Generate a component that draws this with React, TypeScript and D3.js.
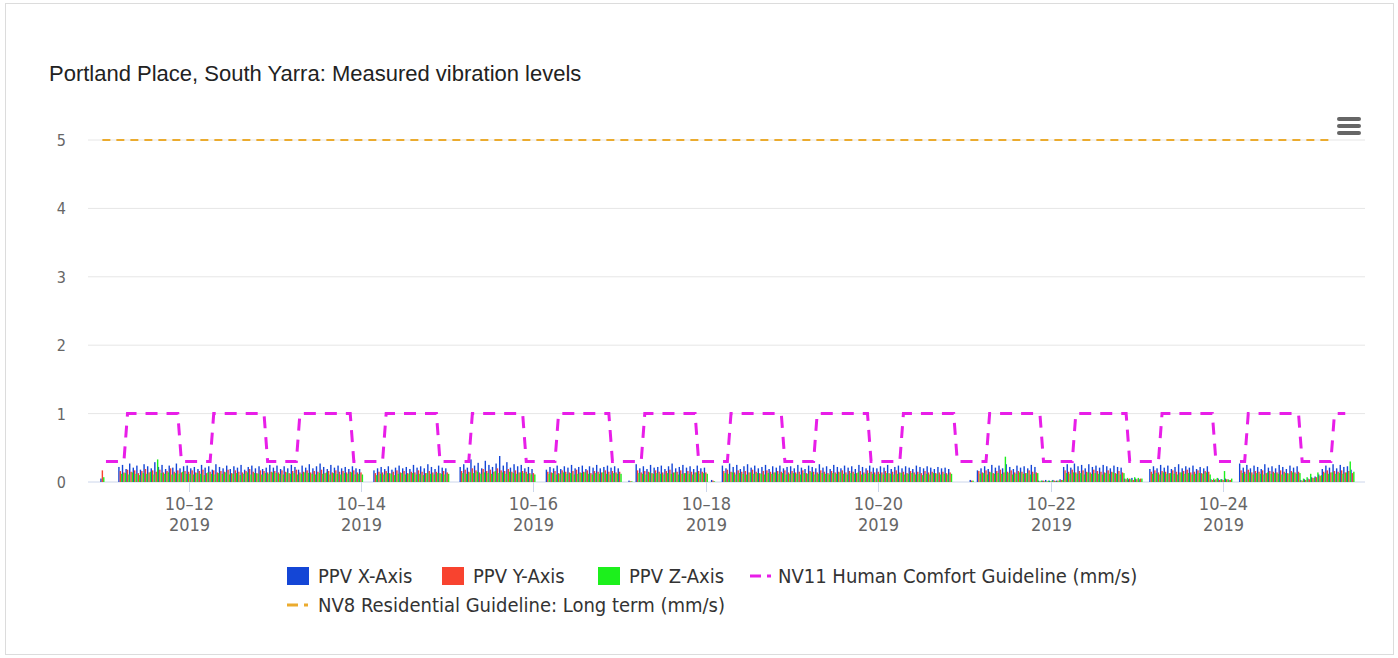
import React from "react";
import * as d3 from "d3";

const n = null;

// hourly PPV readings (mm/s), first value at 2019-10-11 00:00, one row per day
const firstHour = "2019-10-11 00:00";

const ppvX: (number | null)[] = [
  .05,n,n,n,n,.22,.25,.19,.27,.21,.24,.18,.26,.23,.2,.29,.22,.25,.19,.24,.21,.27,.2,.23,
  .24,.2,.22,.19,.25,.21,.23,.18,.26,.22,.2,.24,.19,.23,.21,.25,.18,.22,.24,.2,.23,.19,.21,.25,
  .21,.24,.19,.23,.2,.25,.22,.18,.24,.21,.26,.2,.23,.27,.22,.19,.25,.21,.24,.2,.22,.19,.23,.2,
  .19,n,n,n,.17,.2,.22,.19,.23,.18,.21,.24,.2,.22,.19,.25,.21,.23,.2,.26,.22,.19,.24,.21,
  .2,n,n,n,.22,.26,.21,.33,.24,.28,.2,.31,.25,.22,.27,.38,.24,.29,.21,.26,.23,.25,.2,.22,
  .19,n,n,n,.18,.22,.2,.24,.19,.23,.21,.25,.2,.22,.24,.19,.23,.21,.25,.2,.22,.24,.21,.23,
  .2,n,n,.02,n,.26,.2,.23,.19,.25,.21,.22,.24,.19,.23,.27,.2,.22,.25,.21,.23,.19,.24,.2,
  .21,n,.03,n,n,.24,.2,.27,.22,.25,.19,.23,.26,.21,.24,.2,.22,.25,.19,.23,.21,.24,.2,.22,
  .23,.2,.25,.21,.19,.24,.22,.2,.26,.21,.23,.19,.25,.22,.2,.24,.21,.23,.19,.25,.22,.2,.24,.21,
  .2,.23,.21,.25,.19,.22,.24,.2,.23,.21,.19,.24,.22,.2,.23,.21,.19,.22,.2,.21,.19,n,n,n,
  n,n,.03,n,.17,.2,.23,.19,.25,.21,.24,.2,.26,.22,.19,.24,.21,.23,.2,.25,.22,.02,.02,.03,
  .02,.03,.02,.04,.22,.26,.21,.27,.23,.25,.2,.26,.22,.24,.21,.25,.23,.2,.24,.22,.21,.05,.04,.06,
  .05,.04,n,n,.19,.23,.2,.25,.21,.24,.19,.22,.26,.2,.23,.21,.24,.19,.22,.2,.23,.04,.03,.05,
  .04,.05,.03,n,n,.27,.21,.25,.2,.24,.22,.19,.26,.21,.23,.2,.25,.22,.19,.24,.21,.23,.03,.04,
  .05,.07,.08,.11,.19,.24,.21,.26,.2,.25,.22,.23,.18,
];

const ppvY: (number | null)[] = [
  .17,n,n,n,n,.16,.14,.18,.15,.17,.13,.16,.19,.14,.17,.15,.18,.14,.16,.2,.15,.17,.14,.16,
  .15,.17,.14,.16,.18,.13,.15,.17,.14,.16,.15,.18,.13,.17,.15,.14,.16,.19,.15,.13,.17,.16,.14,.15,
  .16,.14,.17,.15,.13,.16,.18,.14,.15,.17,.14,.16,.15,.18,.13,.16,.14,.17,.15,.16,.14,.15,.17,.14,
  .14,n,n,n,.13,.15,.14,.16,.13,.15,.17,.14,.16,.13,.15,.14,.17,.15,.13,.16,.14,.15,.13,.16,
  .14,n,n,n,.16,.18,.15,.2,.17,.14,.19,.16,.18,.15,.2,.17,.16,.19,.15,.17,.14,.16,.15,.13,
  .13,n,n,n,.15,.14,.16,.13,.17,.15,.14,.16,.18,.14,.15,.17,.13,.16,.15,.14,.17,.15,.16,.14,
  .15,n,n,.01,n,.17,.14,.16,.15,.13,.17,.15,.14,.16,.18,.14,.15,.17,.13,.16,.15,.14,.16,.15,
  .14,n,.02,n,n,.16,.18,.15,.14,.17,.15,.16,.14,.18,.15,.13,.16,.17,.15,.14,.16,.15,.17,.14,
  .16,.14,.15,.17,.13,.16,.15,.14,.17,.15,.13,.16,.14,.15,.17,.14,.16,.15,.13,.16,.14,.17,.15,.14,
  .15,.14,.16,.13,.15,.17,.14,.15,.13,.16,.14,.15,.13,.16,.14,.15,.13,.14,.15,.13,.14,n,n,n,
  n,n,.02,n,.16,.14,.17,.15,.13,.16,.18,.14,.15,.17,.14,.16,.15,.13,.17,.15,.14,.01,.02,.01,
  .01,.02,.02,.03,.17,.15,.18,.14,.16,.17,.15,.14,.18,.16,.15,.14,.17,.15,.13,.16,.14,.04,.05,.03,
  .04,.05,n,n,.15,.17,.14,.16,.15,.13,.17,.15,.14,.16,.18,.14,.15,.17,.13,.16,.15,.03,.04,.03,
  .03,.04,.03,n,n,.17,.15,.18,.14,.16,.15,.17,.13,.16,.15,.14,.17,.15,.13,.16,.14,.15,.02,.03,
  .04,.06,.07,.09,.15,.17,.14,.16,.15,.17,.14,.16,.13,
];

const ppvZ: (number | null)[] = [
  .07,n,n,n,n,.12,.13,.11,.14,.12,.1,.13,.12,.15,.11,.33,.13,.12,.14,.11,.13,.12,.15,.12,
  .12,.11,.13,.12,.1,.14,.12,.11,.13,.12,.14,.11,.12,.13,.1,.12,.14,.11,.13,.12,.11,.13,.12,.14,
  .13,.12,.11,.14,.12,.13,.11,.12,.14,.13,.12,.11,.13,.12,.14,.11,.13,.12,.11,.13,.12,.14,.11,.12,
  .11,n,n,n,.1,.12,.11,.13,.12,.1,.12,.13,.11,.12,.13,.11,.12,.1,.13,.12,.11,.13,.12,.11,
  .12,n,n,n,.13,.12,.14,.13,.15,.12,.14,.13,.12,.16,.13,.14,.12,.15,.13,.12,.14,.13,.12,.11,
  .11,n,n,n,.12,.13,.11,.12,.14,.12,.13,.11,.12,.13,.14,.12,.11,.13,.12,.14,.12,.11,.13,.12,
  .12,n,n,.01,n,.13,.12,.11,.14,.12,.13,.12,.11,.13,.12,.14,.11,.12,.13,.12,.11,.14,.12,.13,
  .12,n,.01,n,n,.13,.12,.14,.11,.13,.12,.11,.14,.12,.13,.12,.11,.13,.12,.14,.12,.13,.11,.12,
  .13,.12,.11,.13,.12,.14,.11,.12,.13,.12,.11,.13,.12,.14,.12,.11,.13,.12,.14,.11,.12,.13,.12,.11,
  .12,.11,.13,.12,.11,.12,.13,.11,.12,.13,.11,.12,.1,.12,.11,.13,.12,.11,.12,.11,.12,n,n,n,
  n,n,.02,n,.12,.13,.11,.14,.12,.13,.12,.37,.13,.11,.12,.14,.12,.13,.11,.12,.13,.02,.01,.02,
  .02,.01,.02,.03,.13,.12,.14,.12,.13,.11,.14,.12,.13,.12,.11,.13,.12,.14,.12,.11,.13,.06,.04,.07,
  .06,.05,n,n,.12,.13,.11,.14,.12,.13,.12,.11,.14,.12,.13,.11,.12,.13,.12,.14,.11,.05,.06,.04,
  .16,.04,.05,n,n,.13,.12,.14,.11,.13,.12,.11,.14,.12,.13,.12,.11,.13,.12,.14,.12,.13,.05,.07,
  .12,.06,.14,.1,.13,.12,.14,.12,.13,.12,.14,.3,.15,
];

// NV11 human comfort guideline: day 1.0, night 0.3 (mm/s)
const nv11: [string, number][] = [
  ["2019-10-11 01:00", 0.3], ["2019-10-11 06:00", 0.3], ["2019-10-11 07:00", 1], ["2019-10-11 21:00", 1], ["2019-10-11 22:00", 0.3],
  ["2019-10-12 06:00", 0.3], ["2019-10-12 07:00", 1], ["2019-10-12 21:00", 1], ["2019-10-12 22:00", 0.3],
  ["2019-10-13 06:00", 0.3], ["2019-10-13 07:00", 1], ["2019-10-13 21:00", 1], ["2019-10-13 22:00", 0.3],
  ["2019-10-14 06:00", 0.3], ["2019-10-14 07:00", 1], ["2019-10-14 21:00", 1], ["2019-10-14 22:00", 0.3],
  ["2019-10-15 06:00", 0.3], ["2019-10-15 07:00", 1], ["2019-10-15 21:00", 1], ["2019-10-15 22:00", 0.3],
  ["2019-10-16 06:00", 0.3], ["2019-10-16 07:00", 1], ["2019-10-16 21:00", 1], ["2019-10-16 22:00", 0.3],
  ["2019-10-17 06:00", 0.3], ["2019-10-17 07:00", 1], ["2019-10-17 21:00", 1], ["2019-10-17 22:00", 0.3],
  ["2019-10-18 06:00", 0.3], ["2019-10-18 07:00", 1], ["2019-10-18 21:00", 1], ["2019-10-18 22:00", 0.3],
  ["2019-10-19 06:00", 0.3], ["2019-10-19 07:00", 1], ["2019-10-19 21:00", 1], ["2019-10-19 22:00", 0.3],
  ["2019-10-20 06:00", 0.3], ["2019-10-20 07:00", 1], ["2019-10-20 21:00", 1], ["2019-10-20 22:00", 0.3],
  ["2019-10-21 06:00", 0.3], ["2019-10-21 07:00", 1], ["2019-10-21 21:00", 1], ["2019-10-21 22:00", 0.3],
  ["2019-10-22 06:00", 0.3], ["2019-10-22 07:00", 1], ["2019-10-22 21:00", 1], ["2019-10-22 22:00", 0.3],
  ["2019-10-23 06:00", 0.3], ["2019-10-23 07:00", 1], ["2019-10-23 21:00", 1], ["2019-10-23 22:00", 0.3],
  ["2019-10-24 06:00", 0.3], ["2019-10-24 07:00", 1], ["2019-10-24 21:00", 1], ["2019-10-24 22:00", 0.3],
  ["2019-10-25 06:00", 0.3], ["2019-10-25 07:00", 1], ["2019-10-25 10:00", 1],
];

// NV8 residential guideline, long term
const nv8: [string, number][] = [
  ["2019-10-11 00:00", 5],
  ["2019-10-25 06:00", 5],
];

const yTicks = [0, 1, 2, 3, 4, 5];
const xTicks = ["2019-10-12", "2019-10-14", "2019-10-16", "2019-10-18", "2019-10-20", "2019-10-22", "2019-10-24"];

const title = "Portland Place, South Yarra: Measured vibration levels";
const barNames = ["PPV X-Axis", "PPV Y-Axis", "PPV Z-Axis"];
const barColors = ["#1446d6", "#f8432f", "#1cf01c"];
const nv11Name = "NV11 Human Comfort Guideline (mm/s)";
const nv8Name = "NV8 Residential Guideline: Long term (mm/s)";

const parseHour = d3.timeParse("%Y-%m-%d %H:%M");
const parseDay = d3.timeParse("%Y-%m-%d");
const fmtMD = d3.timeFormat("%m\u2013%d");
const fmtY = d3.timeFormat("%Y");

const W = 1398;
const H = 658;
const font = "'DejaVu Sans Condensed', 'DejaVu Sans', sans-serif";

export default function App() {
  const x = d3
    .scaleTime()
    .domain([parseHour("2019-10-10 20:00")!, parseHour("2019-10-25 15:30")!])
    .range([88, 1365]);
  const y = d3.scaleLinear().domain([0, 5]).range([482, 140]);
  const start = parseHour(firstHour)!;
  const offs = d3.scaleBand().domain(barNames).range([-2.1, 2.1]);

  const line = d3
    .line<[string, number]>()
    .x((d) => x(parseHour(d[0])!))
    .y((d) => y(d[1]));

  const series = [ppvX, ppvY, ppvZ];

  return (
    <svg width={W} height={H} style={{ position: "absolute", left: 0, top: 0, background: "#fff" }}>
      <rect x={5.5} y={3.5} width={1388} height={651} fill="#fff" stroke="#dcdcdc" />
      <text x={49} y={81} fontFamily="'Liberation Sans', Arial, sans-serif" fontSize={22} fill="#222">
        {title}
      </text>

      {/* menu */}
      <g stroke="#666" strokeWidth={4} strokeLinecap="round">
        {[119, 126, 133].map((yy) => (
          <line key={yy} x1={1339} x2={1359} y1={yy} y2={yy} />
        ))}
      </g>

      {/* grid */}
      {yTicks.map((t) => (
        <g key={t}>
          <line x1={88} x2={1365} y1={y(t)} y2={y(t)} stroke={t === 0 ? "#ccd6eb" : "#e6e6e6"} />
          <text x={66} y={y(t) + 6} textAnchor="end" fontFamily={font} fontSize={16} fill="#666">
            {t}
          </text>
        </g>
      ))}

      {xTicks.map((s) => {
        const d = parseDay(s)!;
        const xx = Math.round(x(d)) + 0.5;
        return (
          <g key={s}>
            <line x1={xx} x2={xx} y1={482} y2={492} stroke="#ccd6eb" />
            <text x={xx} y={510} textAnchor="middle" fontFamily={font} fontSize={18} fill="#666">
              {fmtMD(d)}
            </text>
            <text x={xx} y={531} textAnchor="middle" fontFamily={font} fontSize={18} fill="#666">
              {fmtY(d)}
            </text>
          </g>
        );
      })}

      {/* bars */}
      {series.map((vals, si) => (
        <g key={si} fill={barColors[si]}>
          {vals.map((v, i) => {
            if (v == null) return null;
            const t = d3.timeHour.offset(start, i);
            const bx = x(t) + offs(barNames[si])!;
            return <rect key={i} x={bx} y={y(v)} width={offs.bandwidth()} height={y(0) - y(v)} />;
          })}
        </g>
      ))}

      <path d={line(nv8)!} fill="none" stroke="#ebab2e" strokeWidth={2} strokeDasharray="8,6" />
      <path d={line(nv11)!} fill="none" stroke="#e81ee8" strokeWidth={3} strokeDasharray="12,9" />

      {/* legend */}
      <g fontFamily={font} fontSize={20} fill="#333">
        {barNames.map((nm, i) => {
          const lx = [287, 442, 598][i];
          return (
            <g key={nm}>
              <rect x={lx} y={567} width={22} height={18} fill={barColors[i]} />
              <text x={lx + 31} y={583}>{nm}</text>
            </g>
          );
        })}
        <line x1={750} x2={771} y1={576} y2={576} stroke="#e81ee8" strokeWidth={3} strokeDasharray="11,6" />
        <text x={778} y={583}>{nv11Name}</text>
        <line x1={287} x2={308} y1={605} y2={605} stroke="#ebab2e" strokeWidth={3} strokeDasharray="11,6" />
        <text x={318} y={612}>{nv8Name}</text>
      </g>
    </svg>
  );
}
